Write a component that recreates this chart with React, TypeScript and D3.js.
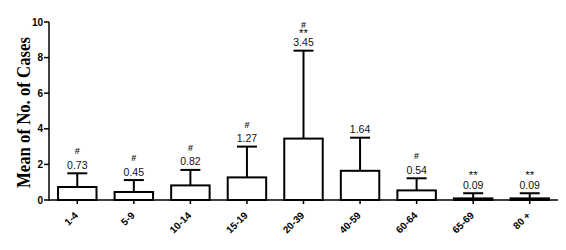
import React from 'react';
import * as d3 from 'd3';

const categories = ['1-4', '5-9', '10-14', '15-19', '20-39', '40-59', '60-64', '65-69', '80 +'];
const means = [0.73, 0.45, 0.82, 1.27, 3.45, 1.64, 0.54, 0.09, 0.09];
const errors = [0.77, 0.67, 0.87, 1.73, 4.94, 1.86, 0.68, 0.29, 0.29];
const hashMarks = ['#', '#', '#', '#', '#', '', '#', '', ''];
const starMarks = ['', '', '', '', '**', '', '', '**', '**'];
const yTicks = [0, 2, 4, 6, 8, 10];

const W = 566;
const H = 250;
const left = 49;
const right = 558;
const top = 22;
const bottom = 200;

export default function App() {
  const x = d3.scaleBand<string>().domain(categories).range([left, right]).paddingInner(0.32).paddingOuter(0.16);
  const y = d3.scaleLinear().domain([0, 10]).range([bottom, top]);
  const bw = x.bandwidth();
  const capW = 20;
  const sans = 'Arial, "Liberation Sans", Helvetica, sans-serif';

  return (
    <svg width={W} height={H} style={{ position: 'absolute', left: 0, top: 0, background: '#fff' }}>
      {categories.map((c, i) => {
        const x0 = x(c)!;
        const cx = x0 + bw / 2;
        const yTop = y(means[i]);
        const yErr = y(means[i] + errors[i]);
        return (
          <g key={c}>
            <line x1={cx} x2={cx} y1={yTop} y2={yErr} stroke="#000" strokeWidth={2} />
            <line x1={cx - capW / 2} x2={cx + capW / 2} y1={yErr} y2={yErr} stroke="#000" strokeWidth={2} />
            <rect x={x0} y={yTop} width={bw} height={bottom - yTop} fill="#fff" stroke="#000" strokeWidth={2} />
            <text x={cx} y={yErr - 4.5} textAnchor="middle" fontFamily={sans} fontSize={10.5} fill="#111">
              {means[i].toFixed(2)}
            </text>
            {starMarks[i] && (
              <text x={cx} y={yErr - 14} textAnchor="middle" fontFamily={sans} fontSize={11.5} fill="#111">
                {starMarks[i]}
              </text>
            )}
            {hashMarks[i] && (
              <text x={cx} y={yErr - (starMarks[i] ? 22.5 : 19)} textAnchor="middle" fontFamily={sans} fontSize={9} fontWeight="bold" fill="#222">
                {hashMarks[i]}
              </text>
            )}
          </g>
        );
      })}
      <line x1={left} x2={right} y1={bottom} y2={bottom} stroke="#000" strokeWidth={1.5} />
      {categories.map((c) => {
        const cx = x(c)! + bw / 2;
        return (
          <g key={'xt' + c}>
            <line x1={cx} x2={cx} y1={bottom} y2={bottom + 4} stroke="#000" strokeWidth={1.5} />
            <text
              transform={`translate(${cx + 1.5},${bottom + 16}) rotate(-45)`}
              textAnchor="end"
              fontFamily={sans}
              fontSize={10}
              fontWeight="bold"
              fill="#000"
            >
              {c}
            </text>
          </g>
        );
      })}
      <line x1={left} x2={left} y1={bottom + 0.75} y2={top} stroke="#000" strokeWidth={1.5} />
      {yTicks.map((t) => (
        <g key={'yt' + t}>
          <line x1={left - 5} x2={left} y1={y(t)} y2={y(t)} stroke="#000" strokeWidth={1.5} />
          <text x={left - 6} y={y(t)} dy="0.35em" textAnchor="end" fontFamily={sans} fontSize={10} fontWeight="bold" fill="#000">
            {t}
          </text>
        </g>
      ))}
      <text
        transform={`translate(30,112.5) rotate(-90)`}
        textAnchor="middle"
        fontFamily='"Times New Roman", "Liberation Serif", serif'
        fontSize={18}
        fontWeight="bold"
        textLength={151}
        lengthAdjust="spacingAndGlyphs"
        fill="#000"
      >
        Mean of No. of Cases
      </text>
    </svg>
  );
}
